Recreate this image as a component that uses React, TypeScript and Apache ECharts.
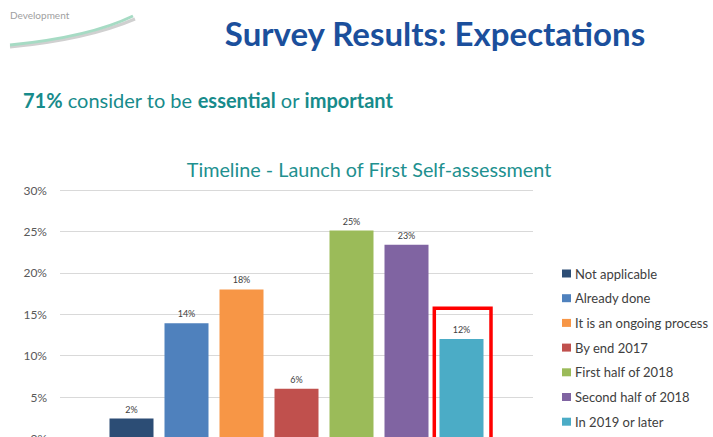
import React, { useEffect, useRef } from "react";
import * as echarts from "echarts";

const seriesNames = [
  "Not applicable",
  "Already done",
  "It is an ongoing process",
  "By end 2017",
  "First half of 2018",
  "Second half of 2018",
  "In 2019 or later",
];
const seriesValues = [2.4, 13.9, 18.0, 6.0, 25.1, 23.4, 12.0];
const seriesColors = ["#2C4D75", "#4F81BD", "#F79646", "#C0504D", "#9BBB59", "#8064A2", "#4BACC6"];
const categories = [""];
const yTicks = { min: 0, max: 30, interval: 5 };

const FONT = "Lato, 'Open Sans', sans-serif";

export default function App() {
  const ref = useRef<HTMLDivElement>(null);
  useEffect(() => {
    if (!ref.current) return;
    const chart = echarts.init(ref.current, null, { renderer: "svg" });
    const series = seriesNames.map((name, i) => ({
      name,
      type: "bar",
      data: [seriesValues[i]],
      barWidth: 44,
      barGap: "25%",
      itemStyle: { color: seriesColors[i] },
      label: {
        show: true,
        position: "top",
        distance: 5,
        fontSize: 9,
        fontFamily: FONT,
        color: "#404040",
        formatter: (p: any) => Math.round(p.value) + "%",
      },
    }));
    chart.setOption({
      animation: false,
      backgroundColor: "#ffffff",
      textStyle: { fontFamily: FONT },
      grid: { left: 60, top: 190, width: 473, height: 248.5, outerBoundsMode: "none", containLabel: false },
      xAxis: {
        type: "category",
        data: categories,
        axisLine: { show: false },
        axisTick: { show: false },
        axisLabel: { show: false },
      },
      yAxis: {
        type: "value",
        min: yTicks.min,
        max: yTicks.max,
        interval: yTicks.interval,
        axisLine: { show: false },
        axisTick: { show: false },
        axisLabel: { formatter: "{value}%", color: "#595959", fontSize: 12, margin: 13, fontFamily: FONT },
        splitLine: { lineStyle: { color: "#D9D9D9", width: 1 } },
      },
      legend: {
        orient: "vertical",
        left: 562,
        top: 267,
        height: 300,
        padding: 0,
        itemWidth: 9,
        itemHeight: 8,
        itemGap: 11.7,
        icon: "rect",
        textStyle: { fontSize: 13, color: "#404040", fontFamily: FONT, padding: [0, 0, 0, -1] },
        data: seriesNames,
      },
      series,
      graphic: [
        {
          type: "bezierCurve",
          shape: { x1: 10, y1: 47, cpx1: 60, cpy1: 42, cpx2: 100, cpy2: 34, x2: 135, y2: 19 },
          style: { stroke: "#D0D0D0", lineWidth: 3, fill: "none" },
        },
        {
          type: "bezierCurve",
          shape: { x1: 10, y1: 45, cpx1: 60, cpy1: 40, cpx2: 100, cpy2: 32, x2: 133, y2: 16 },
          style: { stroke: "#A6DBC4", lineWidth: 3, fill: "none" },
        },
        {
          type: "text",
          x: 10,
          y: 10,
          style: { text: "Development", fontSize: 10, fill: "#A0A0A0", fontFamily: FONT },
        },
        {
          type: "text",
          x: 435,
          y: 33,
          style: {
            text: "Survey Results: Expectations",
            fontSize: 33,
            fontWeight: "bold",
            fill: "#1B4F9C",
            fontFamily: FONT,
            align: "center",
            verticalAlign: "middle",
          },
        },
        {
          type: "text",
          x: 23,
          y: 100,
          style: {
            text: "{b|71%} consider to be {b|essential} or {b|important}",
            fontSize: 20,
            fill: "#178B8B",
            fontFamily: FONT,
            verticalAlign: "middle",
            rich: {
              b: { fontSize: 20, fontWeight: "bold", fill: "#178B8B", fontFamily: FONT },
            },
          },
        },
        {
          type: "text",
          x: 369,
          y: 169,
          style: {
            text: "Timeline - Launch of First Self-assessment",
            fontSize: 19.8,
            fill: "#21908F",
            fontFamily: FONT,
            align: "center",
            verticalAlign: "middle",
          },
        },
        {
          type: "rect",
          shape: { x: 434.3, y: 308.3, width: 56.7, height: 140 },
          style: { stroke: "#FF0000", lineWidth: 3.5, fill: "none" },
          z: 100,
        },
      ],
    });
    return () => chart.dispose();
  }, []);
  return (
    <div
      ref={ref}
      style={{ position: "fixed", left: 0, top: 0, width: 713, height: 437, overflow: "hidden" }}
    />
  );
}
